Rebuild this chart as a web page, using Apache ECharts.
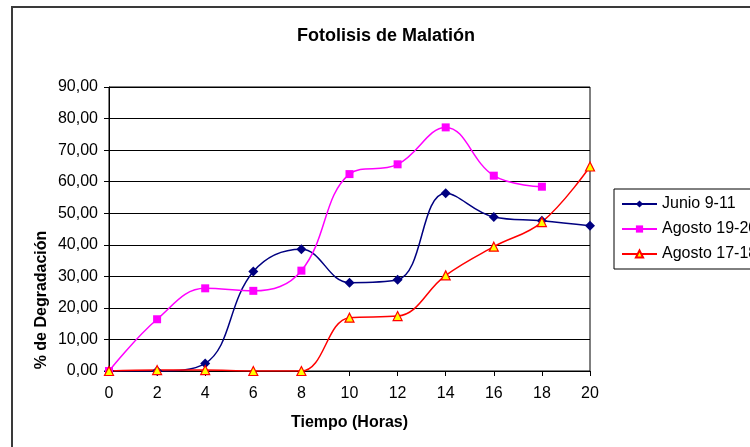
<!DOCTYPE html>
<html>
<head>
<meta charset="utf-8">
<script src="https://cdn.jsdelivr.net/npm/echarts@6/dist/echarts.min.js"></script>
<style>html,body{margin:0;padding:0;background:#fff}#c{width:750px;height:447px}</style>
</head>
<body>
<div id="c"></div>
<script>
var hours = [0, 2, 4, 6, 8, 10, 12, 14, 16, 18, 20];
var junio = [0, 0, 2.4, 31.5, 38.6, 28.0, 28.9, 56.3, 48.8, 47.6, 46.0];
var agosto1920 = [0, 16.4, 26.2, 25.4, 31.8, 62.4, 65.5, 77.2, 61.9, 58.4];
var agosto1718 = [0, 0.3, 0.3, 0, 0, 16.9, 17.4, 30.3, 39.4, 47.2, 64.8];
var seriesNames = ['Junio 9-11', 'Agosto 19-20', 'Agosto 17-18'];

function pairs(vals) { return vals.map(function (v, i) { return [hours[i], v]; }); }

var font = 'Liberation Sans, Arial, sans-serif';
var chart = echarts.init(document.getElementById('c'));
chart.setOption({
  animation: false,
  backgroundColor: '#fff',
  title: {
    text: 'Fotolisis de Malatión',
    left: 381, top: 22, textAlign: 'center',
    textStyle: { fontFamily: font, fontSize: 18, fontWeight: 'bold', color: '#000' }
  },
  graphic: [
    { type: 'rect', shape: { x: 12, y: 7, width: 900, height: 600 }, style: { fill: 'none', stroke: '#3a3a3a', lineWidth: 2 }, z: 100 },
    { type: 'text', x: 42, y: 300, rotation: Math.PI / 2,
      style: { text: '% de Degradación', fill: '#000', font: 'bold 16px Liberation Sans, Arial, sans-serif', textAlign: 'center', textVerticalAlign: 'middle' } }
  ],
  legend: {
    orient: 'vertical', left: 614, top: 189,
    itemWidth: 35, itemHeight: 9, itemGap: 9, padding: [7, 7, 7, 7],
    borderColor: '#000', borderWidth: 1,
    textStyle: { fontFamily: font, fontSize: 16, color: '#000' },
    data: seriesNames
  },
  grid: { left: 109, right: 160, top: 87, bottom: 76, show: true, borderColor: '#000', borderWidth: 1 },
  xAxis: {
    type: 'value', min: 0, max: 20, interval: 2,
    name: 'Tiempo (Horas)', nameLocation: 'middle', nameGap: 44,
    nameTextStyle: { fontFamily: font, fontSize: 16, fontWeight: 'bold', color: '#000' },
    axisLine: { lineStyle: { color: '#000' } },
    axisTick: { length: 5, lineStyle: { color: '#000' } },
    axisLabel: { fontFamily: font, fontSize: 16, color: '#000', margin: 15 },
    splitLine: { show: false }
  },
  yAxis: {
    type: 'value', min: 0, max: 90, interval: 10,
    axisLine: { show: true, lineStyle: { color: '#000' } },
    axisTick: { show: true, length: 5, lineStyle: { color: '#000' } },
    axisLabel: { fontFamily: font, fontSize: 16, color: '#000', margin: 11,
      formatter: function (v) { return v.toFixed(2).replace('.', ','); } },
    splitLine: { lineStyle: { color: '#000', width: 1 } }
  },
  series: [
    { name: seriesNames[0], type: 'line', smooth: 0.4, data: pairs(junio),
      symbol: 'diamond', symbolSize: 10,
      lineStyle: { color: '#000080', width: 1.5 }, itemStyle: { color: '#000080' } },
    { name: seriesNames[1], type: 'line', smooth: 0.4, data: pairs(agosto1920),
      symbol: 'rect', symbolSize: 8,
      lineStyle: { color: '#FF00FF', width: 1.5 }, itemStyle: { color: '#FF00FF' } },
    { name: seriesNames[2], type: 'line', smooth: 0.4, data: pairs(agosto1718),
      symbol: 'triangle', symbolSize: 9,
      lineStyle: { color: '#FF0000', width: 1.5 }, itemStyle: { color: '#FFFF00', borderColor: '#FF0000', borderWidth: 1.2 } }
  ]
});
</script>
</body>
</html>
